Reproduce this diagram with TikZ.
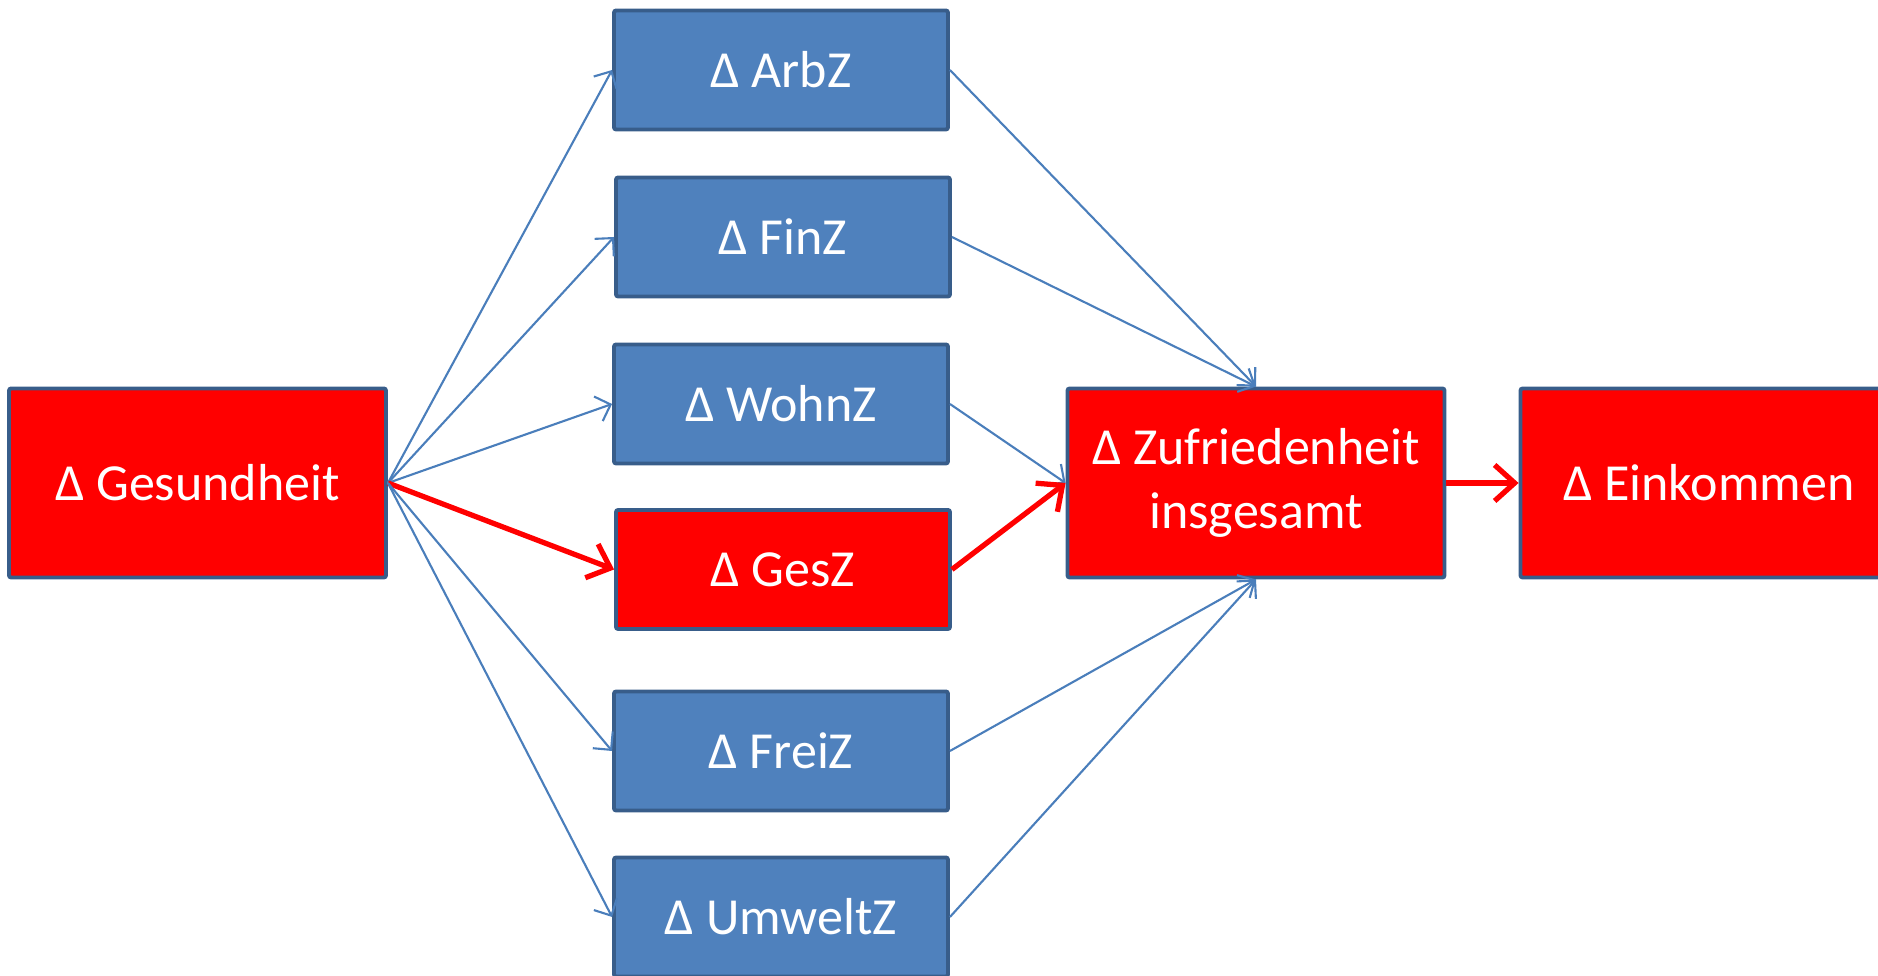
\documentclass[tikz,border=0pt]{standalone}
\usepackage{fontspec}
\setmainfont{Carlito}
\usepackage{tikz}
\usetikzlibrary{arrows.meta}
\definecolor{boxblue}{RGB}{79,129,189}
\definecolor{boxline}{RGB}{56,93,138}
\definecolor{arrowblue}{RGB}{74,126,187}
\newcommand{\boxfont}{\fontsize{14.8pt}{18.4pt}\selectfont}
\tikzset{
  box/.style={draw=boxline, line width=1.1pt, rounded corners=0.6pt, fill=boxblue, text=white,
    inner sep=0pt, minimum width=3.34cm, minimum height=1.19cm, font=\boxfont},
  bigbox/.style={box, fill=red, minimum width=3.77cm, minimum height=1.89cm, align=center},
  bluearrow/.style={draw=arrowblue, line width=0.6pt, -{Straight Barb[length=1.3mm, width=2.6mm]}},
  redarrow/.style={draw=red, line width=1.5pt, -{Straight Barb[length=2mm, width=3.6mm]}}
}

\begin{document}
\begin{tikzpicture}[scale=1]
\useasboundingbox (0,0) rectangle (18.78,9.76);

\def\xm{7.81}

\node[bigbox] (ges) at (1.975,4.93) {Δ Gesundheit};
\node[bigbox] (zuf) at (12.56,4.93) {Δ Zufriedenheit\\insgesamt};
\node[bigbox] (eink) at (17.09,4.93) {Δ Einkommen};

\node[box] (arbz) at (\xm,9.06) {Δ ArbZ};
\node[box] (finz) at (\xm+0.02,7.39) {Δ FinZ};
\node[box] (wohnz) at (\xm,5.72) {Δ WohnZ};
\node[box, fill=red] (gesz) at (\xm+0.02,4.065) {Δ GesZ};
\node[box] (freiz) at (\xm,2.25) {Δ FreiZ};
\node[box] (umweltz) at (\xm,0.59) {Δ UmweltZ};

\draw[bluearrow] (ges.east) -- (arbz.west);
\draw[bluearrow] (ges.east) -- (finz.west);
\draw[bluearrow] (ges.east) -- (wohnz.west);
\draw[redarrow] (ges.east) -- (gesz.west);
\draw[bluearrow] (ges.east) -- (freiz.west);
\draw[bluearrow] (ges.east) -- (umweltz.west);

\draw[bluearrow] (arbz.east) -- (zuf.north);
\draw[bluearrow] (finz.east) -- (zuf.north);
\draw[bluearrow] (wohnz.east) -- (zuf.west);
\draw[redarrow] (gesz.east) -- (zuf.west);
\draw[bluearrow] (freiz.east) -- (zuf.south);
\draw[bluearrow] (umweltz.east) -- (zuf.south);

\draw[redarrow] (zuf.east) -- (eink.west);
\end{tikzpicture}
\end{document}
